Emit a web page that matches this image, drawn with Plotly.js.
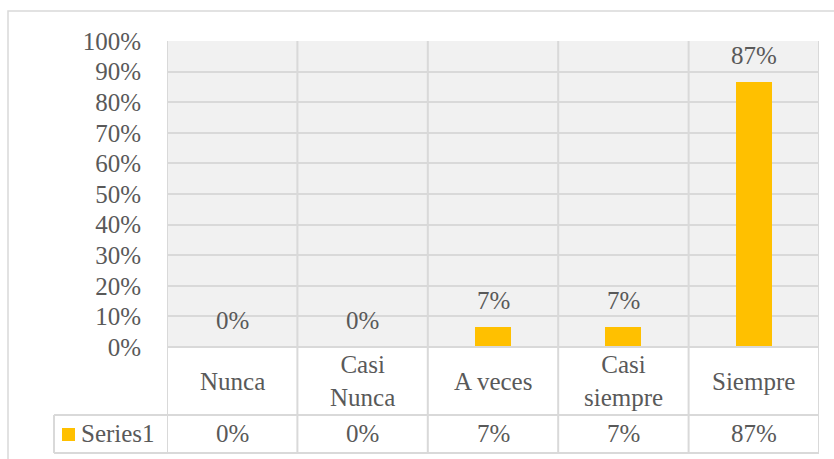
<!DOCTYPE html>
<html>
<head>
<meta charset="utf-8">
<script src="https://cdn.plot.ly/plotly-3.0.1.min.js"></script>
<style>html,body{margin:0;padding:0;background:#fff;font-family:'Liberation Serif';}#chart{width:834px;height:459px;}</style>
</head>
<body>
<div id="chart"></div>
<script>
var categories = ["Nunca", "Casi Nunca", "A veces", "Casi siempre", "Siempre"];
var categoryLabels = ["Nunca", "Casi<br>Nunca", "A veces", "Casi<br>siempre", "Siempre"];
var values = [0, 0, 0.0667, 0.0667, 0.8667];
var seriesName = "Series1";
var yTickVals = [0, 0.1, 0.2, 0.3, 0.4, 0.5, 0.6, 0.7, 0.8, 0.9, 1.0];

var FONT = "Liberation Serif";
var FS = 25;
var TXT = "#595959";
var GRID = "#d9d9d9";
var BAR = "#FFC000";

// pixel helpers for plot area (l=167, t=41, w=652, h=306)
var L = 167, T = 41, W = 652, H = 306;
function px(x) { return (x - L) / W; }
function py(y) { return (T + H - y) / H; }
function pct(v) { return Math.round(v * 100) + "%"; }

function draw() {
  var trace = {
    type: "bar",
    x: categories,
    y: values,
    name: seriesName,
    width: 0.275,
    marker: { color: BAR },
    hoverinfo: "x+y"
  };

  var annotations = [];
  categories.forEach(function (c, i) {
    annotations.push({
      x: c, y: values[i], xref: "x", yref: "y",
      text: pct(values[i]), showarrow: false,
      yanchor: "bottom", yshift: 11,
      font: { family: FONT, size: FS, color: TXT }
    });
    annotations.push({
      x: c, y: py(381), xref: "x", yref: "paper",
      text: categoryLabels[i], showarrow: false,
      yanchor: "middle",
      font: { family: FONT, size: FS, color: TXT }
    });
    annotations.push({
      x: c, y: py(434), xref: "x", yref: "paper",
      text: pct(values[i]), showarrow: false,
      yanchor: "middle",
      font: { family: FONT, size: FS, color: TXT }
    });
  });
  annotations.push({
    x: px(79), y: py(434), xref: "paper", yref: "paper",
    text: seriesName, showarrow: false, xanchor: "left", yanchor: "middle",
    font: { family: FONT, size: FS, color: TXT }
  });

  var shapes = [];
  var ln = { color: GRID, width: 2 };
  shapes.push({ type: "rect", xref: "paper", yref: "paper",
    x0: px(8), x1: px(900), y0: py(11), y1: py(520),
    line: { color: GRID, width: 1.5 }, fillcolor: "rgba(0,0,0,0)", layer: "below" });
  for (var k = 0; k <= categories.length; k++) {
    shapes.push({ type: "line", xref: "x", yref: "paper",
      x0: k - 0.5, x1: k - 0.5, y0: 1, y1: py(453), line: ln });
  }
  shapes.push({ type: "line", xref: "paper", yref: "paper", x0: 0, x1: 1, y0: 0, y1: 0, line: ln });
  shapes.push({ type: "line", xref: "paper", yref: "paper", x0: px(54), x1: 1, y0: py(415), y1: py(415), line: ln });
  shapes.push({ type: "line", xref: "paper", yref: "paper", x0: px(54), x1: 1, y0: py(453), y1: py(453), line: ln });
  shapes.push({ type: "line", xref: "paper", yref: "paper", x0: px(54), x1: px(54), y0: py(415), y1: py(453), line: ln });
  shapes.push({ type: "rect", xref: "paper", yref: "paper",
    x0: px(62), x1: px(75), y0: py(441), y1: py(428),
    line: { width: 0 }, fillcolor: BAR });

  var layout = {
    width: 834, height: 459,
    margin: { l: L, r: 834 - L - W, t: T, b: 459 - T - H, pad: 0 },
    paper_bgcolor: "#ffffff",
    plot_bgcolor: "#f1f1f1",
    showlegend: false,
    bargap: 0,
    font: { family: FONT, size: FS, color: TXT },
    xaxis: {
      type: "category", range: [-0.5, 4.5], fixedrange: true,
      showticklabels: false, showgrid: false, zeroline: false, showline: false, ticks: ""
    },
    yaxis: {
      range: [0, 1], tickvals: yTickVals, tickformat: ".0%", fixedrange: true,
      showgrid: true, gridcolor: GRID, gridwidth: 2, zeroline: false, showline: false,
      ticks: "outside", ticklen: 20, tickcolor: "rgba(0,0,0,0)",
      tickfont: { family: FONT, size: FS, color: TXT }
    },
    annotations: annotations,
    shapes: shapes
  };

  Plotly.newPlot("chart", [trace], layout, { displayModeBar: false, staticPlot: true });
}

if (document.fonts && document.fonts.load) {
  document.fonts.load("25px 'Liberation Serif'", "Nunca").then(draw, draw);
} else {
  draw();
}
</script>
</body>
</html>
